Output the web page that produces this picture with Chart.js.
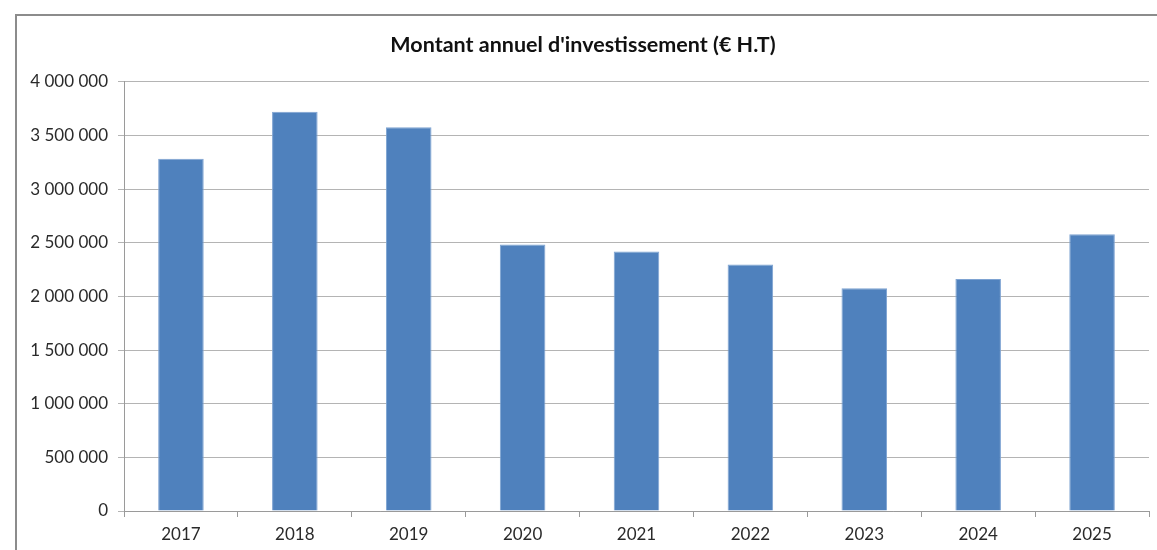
<!DOCTYPE html>
<html>
<head>
<meta charset="utf-8">
<script src="https://cdn.jsdelivr.net/npm/chart.js@4"></script>
<style>
  html, body { margin: 0; padding: 0; background: #fff; }
  #frame {
    position: absolute; left: 15px; top: 14px;
    width: 1142px; height: 536px;
    border-left: 2px solid #8c8c8c; border-top: 2px solid #8c8c8c;
  }
  #wrap { position: relative; width: 1140px; height: 534px; }
</style>
</head>
<body>
<div id="frame"><div id="wrap"><canvas id="chart"></canvas></div></div>
<script>
// data
const years = ['2017', '2018', '2019', '2020', '2021', '2022', '2023', '2024', '2025'];
const montants = [3283000, 3722000, 3576000, 2484000, 2418000, 2297000, 2076000, 2163000, 2580000];
const yTicks = [0, 500000, 1000000, 1500000, 2000000, 2500000, 3000000, 3500000, 4000000];

const chartTitle = "Montant annuel d'investissement (€ H.T)";
const fontName = 'Lato, "Open Sans", sans-serif';

function spaced(v) {
  return v.toString().replace(/\B(?=(\d{3})+(?!\d))/g, ' ');
}

const ctx = document.getElementById('chart');
new Chart(ctx, {
  type: 'bar',
  data: {
    labels: years,
    datasets: [{
      label: 'Montant',
      data: montants,
      backgroundColor: '#4f81bd',
      borderColor: '#7ea3d2',
      borderWidth: 1,
      categoryPercentage: 1,
      barPercentage: 0.4
    }]
  },
  options: {
    responsive: true,
    maintainAspectRatio: false,
    animation: false,
    layout: { padding: { left: 0, right: 8, top: 0, bottom: 0 } },
    plugins: {
      legend: { display: false },
      tooltip: { enabled: false },
      title: {
        display: true,
        text: chartTitle,
        color: '#111',
        font: { family: fontName, size: 21.5, weight: 'bold' },
        padding: { top: 16, bottom: 24 }
      }
    },
    scales: {
      x: {
        grid: {
          offset: true,
          drawOnChartArea: false,
          drawTicks: true,
          tickLength: 6,
          color: '#9a9a9a'
        },
        border: { color: '#9a9a9a', width: 1 },
        ticks: {
          color: '#2a2a2a',
          font: { family: fontName, size: 17 },
          padding: 7
        },
        afterFit: (s) => { s.height = 39; }
      },
      y: {
        min: 0,
        max: 4000000,
        afterBuildTicks: (s) => { s.ticks = yTicks.map(v => ({ value: v })); },
        grid: { color: '#b4b4b4', tickLength: 6, lineWidth: 1 },
        border: { color: '#9a9a9a', width: 1 },
        ticks: {
          color: '#2a2a2a',
          font: { family: fontName, size: 17 },
          padding: 10,
          callback: (v) => spaced(v)
        },
        afterFit: (s) => { s.width = 107; }
      }
    }
  }
});
</script>
</body>
</html>
